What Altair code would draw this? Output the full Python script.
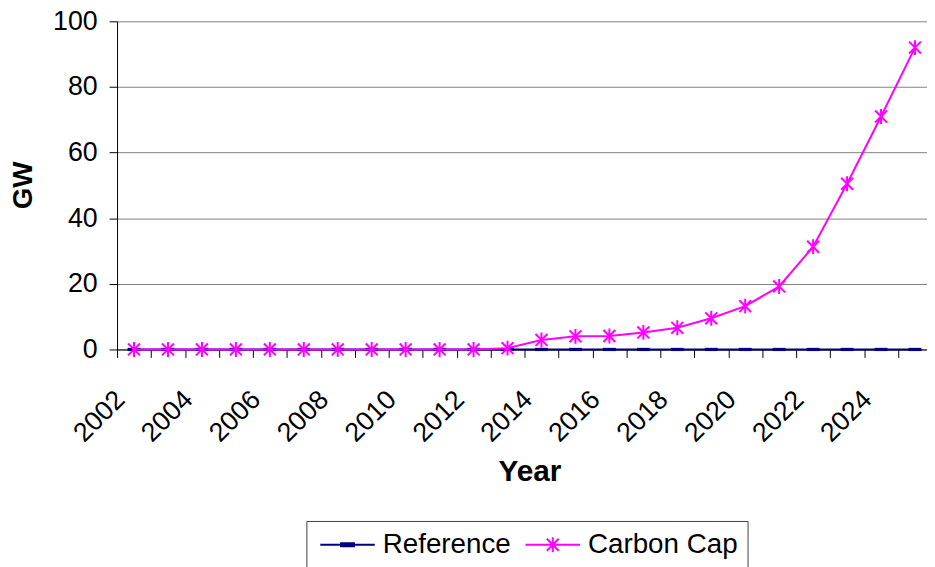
import altair as alt
import pandas as pd

# data (GW by year)
years = [2002, 2003, 2004, 2005, 2006, 2007, 2008, 2009, 2010, 2011, 2012, 2013,
         2014, 2015, 2016, 2017, 2018, 2019, 2020, 2021, 2022, 2023, 2024, 2025]
reference_gw = [0.0, 0.0, 0.0, 0.0, 0.0, 0.0, 0.0, 0.0, 0.0, 0.0, 0.0, 0.0,
                0.0, 0.0, 0.0, 0.0, 0.0, 0.0, 0.0, 0.0, 0.0, 0.0, 0.0, 0.0]
carbon_cap_gw = [0.0, 0.0, 0.0, 0.0, 0.0, 0.0, 0.0, 0.0, 0.0, 0.0, 0.0, 0.4,
                 2.9, 4.0, 4.1, 5.2, 6.6, 9.5, 13.2, 19.2, 31.3, 50.5, 71.0, 92.0]
series_names = ["Reference", "Carbon Cap"]
series_colors = ["#000080", "#FF00FF"]
y_ticks = [0, 20, 40, 60, 80, 100]

rows = []
for name, values in zip(series_names, [reference_gw, carbon_cap_gw]):
    for yr, v in zip(years, values):
        rows.append({"Year": yr, "GW": v, "Series": name})
df = pd.DataFrame(rows)

FONT = "Liberation Sans"

# marker shapes
DASH = "M-1,-0.25H1V0.25H-1Z"
STAR = "M-1,-1L1,1M-1,1L1,-1M0,-1.25V1.25"
# legend symbols: line with the marker in the middle (kept right of the item start)
LEG_REF = "M-1,0H4.5M1.1,-0.15H2.4V0.15H1.1Z"
LEG_CAP = "M-1,0H4.5M1.15,-0.6L2.35,0.6M1.15,0.6L2.35,-0.6M1.75,-0.75V0.75"

x = alt.X(
    "Year:O",
    scale=alt.Scale(type="band", paddingInner=0, paddingOuter=0),
    axis=alt.Axis(
        title="Year", titleFont=FONT, titleFontSize=30, titleFontWeight="bold",
        titleColor="black", titleX=416, titleY=132, titleBaseline="alphabetic",
        labelFont=FONT, labelFontSize=27, labelColor="black",
        labelAngle=-45, labelAlign="right", labelBaseline="middle",
        labelPadding=38, labelOffset=-14, labelOverlap=False, labelFlush=False,
        labelExpr="datum.value % 2 == 0 ? datum.label : ''",
        tickBand="extent", tickSize=8, tickColor="black",
        domainColor="black", grid=False,
    ),
)
y = alt.Y(
    "GW:Q",
    scale=alt.Scale(domain=[0, 100]),
    axis=alt.Axis(
        values=y_ticks, title="GW", titleFont=FONT, titleFontSize=28,
        titleFontWeight="bold", titleColor="black", titleAngle=-90,
        titleX=-94, titleY=165, titleAlign="center", titleBaseline="middle",
        labelFont=FONT, labelFontSize=27, labelColor="black", labelPadding=12,
        tickSize=8, tickColor="black", domainColor="black",
        grid=True, gridColor="#808080",
    ),
)

base = alt.Chart(df)
ref = base.transform_filter(alt.datum.Series == "Reference")
cap = base.transform_filter(alt.datum.Series == "Carbon Cap")

ref_line = ref.mark_line(color=series_colors[0], strokeWidth=2).encode(x=x, y=y)
ref_pts = ref.mark_point(shape=DASH, filled=True, size=169, color=series_colors[0],
                         opacity=1).encode(x=x, y=y)
cap_line = cap.mark_line(color=series_colors[1], strokeWidth=2).encode(x=x, y=y)
cap_pts = cap.mark_point(shape=STAR, filled=False, size=144, color=series_colors[1],
                         strokeWidth=2, opacity=1).encode(x=x, y=y)

leg = dict(
    orient="none", legendX=191, legendY=504, direction="horizontal", columns=2,
    title=None, labelFont=FONT, labelFontSize=28, labelColor="black",
    symbolSize=400, symbolStrokeWidth=2, labelOffset=39, columnPadding=10,
    padding=10, strokeColor="#404040", fillColor="white", cornerRadius=0,
)
legend_layer = base.transform_filter("datum.GW < -1").mark_point(
    filled=False, strokeWidth=2, opacity=1
).encode(
    x=x, y=y,
    color=alt.Color("Series:N", scale=alt.Scale(domain=series_names, range=series_colors),
                    legend=alt.Legend(**leg)),
    shape=alt.Shape("Series:N", scale=alt.Scale(domain=series_names, range=[LEG_REF, LEG_CAP]),
                    legend=alt.Legend(**leg)),
)

chart = alt.layer(ref_line, ref_pts, cap_line, cap_pts, legend_layer).properties(
    width=822,
    height=331,
    autosize=alt.AutoSizeParams(type="none"),
    padding={"left": 110, "top": 11, "right": -5, "bottom": 217},
).configure_view(stroke=None)

chart.save("out.html", embed_options={"renderer": "svg", "actions": False})
